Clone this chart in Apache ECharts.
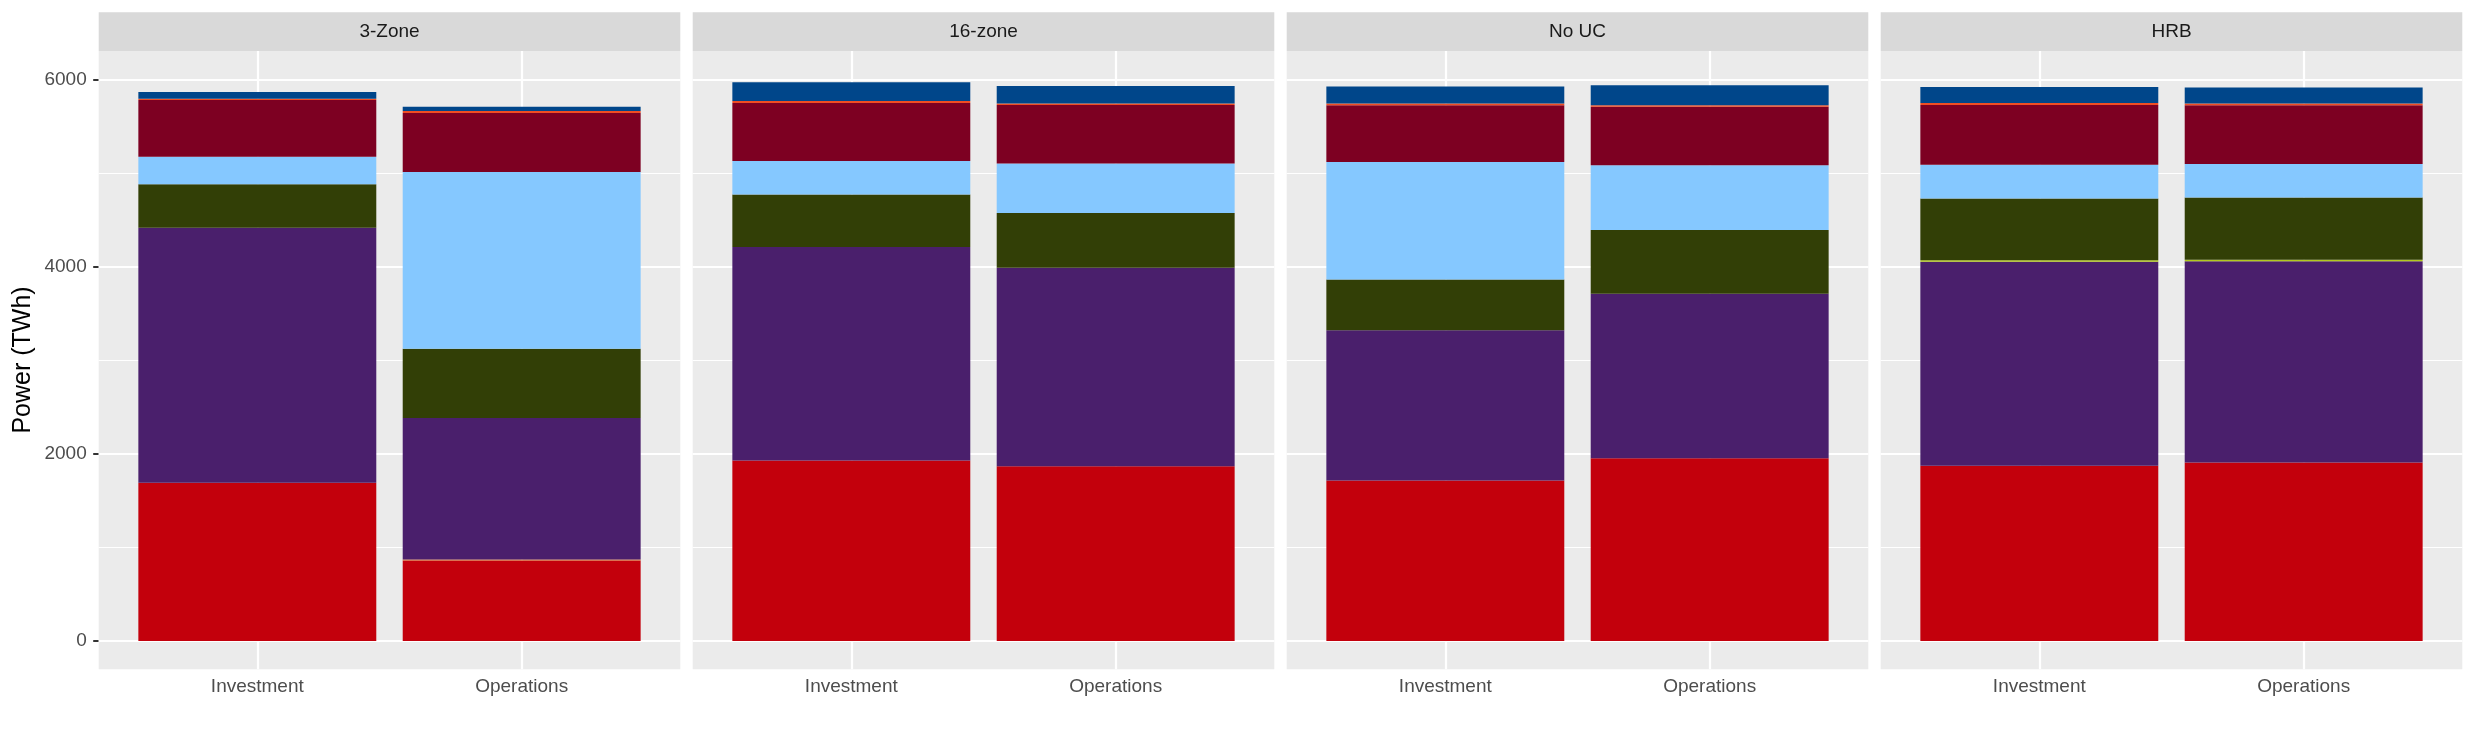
<!DOCTYPE html>
<html>
<head>
    <meta charset="utf-8"/>
    <title>Power by case</title>
    <script src="https://cdn.jsdelivr.net/npm/echarts@6/dist/echarts.min.js"></script>
    <style>body{margin:0;background:#fff;}</style>
</head>
<body>
<div id="main" style="width:2475px;height:742px;"></div>
<script type="text/javascript">
    var panels = ['3-Zone', '16-zone', 'No UC', 'HRB'];
    var cases = ['Investment', 'Operations'];
    var yTicks = [0, 2000, 4000, 6000];
    var yMinor = [1000, 3000, 5000];

    // one value per bar: 3-Zone Inv, 3-Zone Ops, 16-zone Inv, 16-zone Ops, No UC Inv, No UC Ops, HRB Inv, HRB Ops
    var red       = [1692, 862, 1929, 1869, 1717, 1955, 1874, 1909];
    var orangeLow = [0, 10, 0, 0, 0, 0, 0, 0];
    var purple    = [2727, 1512, 2283, 2121, 1606, 1757, 2182, 2152];
    var yellow    = [0, 0, 0, 0, 0, 0, 15, 15];
    var olive     = [465, 742, 561, 586, 541, 682, 661, 666];
    var skyBlue   = [293, 1889, 358, 530, 1257, 692, 359, 359];
    var darkRed   = [606, 631, 622, 626, 606, 626, 641, 626];
    var orangeTop = [15, 21, 20, 15, 20, 15, 21, 20];
    var navy      = [71, 45, 202, 187, 182, 215, 171, 172];

    var techNames = ['red', 'orangeLow', 'purple', 'yellow', 'olive', 'skyBlue', 'darkRed', 'orangeTop', 'navy'];
    var techValues = [red, orangeLow, purple, yellow, olive, skyBlue, darkRed, orangeTop, navy];
    var techColors = ['#C3000C', '#E0702A', '#4A1F6C', '#B2C91E', '#323F06', '#85C8FF', '#7D0022', '#F04E23', '#00468A'];

    var font = 'Liberation Sans';
    var yMin = -302, yMax = 6308;
    var left0 = 98.7, panelW = 581.6, step = 594, panelTop = 51, panelH = 618.3;

    var grid = [], xAxis = [], yAxis = [], series = [], graphic = [];

    panels.forEach(function (p, i) {
        var left = left0 + i * step;
        // panel background, gridlines live here
        grid.push({left: left, top: panelTop, width: panelW, height: panelH, show: true,
            backgroundColor: '#EBEBEB', borderWidth: 0});
        // bars, inset like ggplot's discrete expansion
        grid.push({left: left + panelW * 0.1 / 2.2, top: panelTop, width: panelW * 2 / 2.2, height: panelH});

        xAxis.push({gridIndex: 2 * i, type: 'value', min: 0.4, max: 2.6, show: false});
        xAxis.push({
            gridIndex: 2 * i + 1, type: 'category', data: cases,
            axisLine: {show: false},
            axisTick: {alignWithLabel: true, length: 5.5, lineStyle: {color: '#333333', width: 2}},
            axisLabel: {color: '#4D4D4D', fontSize: 19, fontFamily: font, margin: 8},
            splitLine: {show: false}
        });

        yAxis.push({
            gridIndex: 2 * i, type: 'value', min: yMin, max: yMax, show: i === 0,
            axisLine: {show: false},
            splitLine: {show: false},
            axisTick: {show: true, customValues: yTicks, length: 5.5, lineStyle: {color: '#333333', width: 2}},
            axisLabel: {customValues: yTicks, color: '#4D4D4D', fontSize: 19, fontFamily: font, margin: 12,
                formatter: function (v) { return String(v); }}
        });
        yAxis.push({gridIndex: 2 * i + 1, type: 'value', min: yMin, max: yMax, show: false, splitLine: {show: false}});

        var lines = [];
        yMinor.forEach(function (v) { lines.push({yAxis: v, lineStyle: {width: 1.1}}); });
        yTicks.forEach(function (v) { lines.push({yAxis: v, lineStyle: {width: 2.2}}); });
        [1, 2].forEach(function (v) { lines.push({xAxis: v, lineStyle: {width: 2.2}}); });
        series.push({
            type: 'line', xAxisIndex: 2 * i, yAxisIndex: 2 * i, data: [], z: 1, silent: true,
            markLine: {
                z: 1, silent: true, symbol: ['none', 'none'], label: {show: false},
                lineStyle: {color: '#FFFFFF', type: 'solid'},
                emphasis: {disabled: true},
                data: lines
            }
        });

        techValues.forEach(function (vals, k) {
            series.push({
                type: 'bar', name: techNames[k], xAxisIndex: 2 * i + 1, yAxisIndex: 2 * i + 1,
                stack: 'p' + i, barWidth: '90%', z: 3,
                itemStyle: {color: techColors[k]},
                data: [vals[2 * i], vals[2 * i + 1]]
            });
        });

        graphic.push({type: 'rect', silent: true, shape: {x: left, y: 12.3, width: panelW, height: 38.7},
            style: {fill: '#D9D9D9'}});
        graphic.push({type: 'text', silent: true, x: left + panelW / 2, y: 31.7,
            style: {text: p, fill: '#1A1A1A', fontSize: 19, fontFamily: font,
                textAlign: 'center', textVerticalAlign: 'middle'}});
    });

    graphic.push({type: 'text', silent: true, x: 23, y: 360, rotation: Math.PI / 2,
        style: {text: 'Power (TWh)', fill: '#000000', fontSize: 25, fontFamily: font,
            textAlign: 'center', textVerticalAlign: 'middle'}});

    var myChart = echarts.init(document.getElementById('main'));
    myChart.setOption({
        animation: false,
        backgroundColor: '#FFFFFF',
        grid: grid,
        xAxis: xAxis,
        yAxis: yAxis,
        series: series,
        graphic: graphic
    });
</script>
</body>
</html>
